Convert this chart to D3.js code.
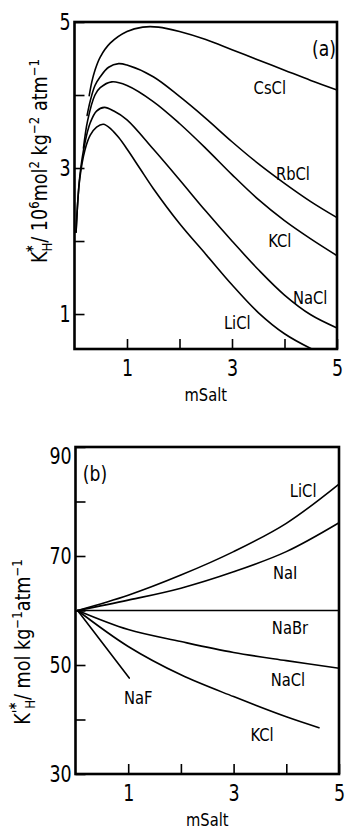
<!DOCTYPE html>
<html>
<head>
<meta charset="utf-8">
<script src="https://cdn.jsdelivr.net/npm/d3@7"></script>
<style>
  html, body { margin: 0; padding: 0; background: #fff; }
  svg { display: block; }
  text { font-family: "DejaVu Sans", sans-serif; fill: #000; }
</style>
</head>
<body>
<svg id="chart" width="345" height="830"></svg>
<script>
// ---- Panel (a): K*_H vs salt molality, chloride salts ----
const aLiClM = [0.03, 0.1, 0.2, 0.3, 0.42, 0.55, 0.7, 0.85, 1.0, 1.25, 1.5, 2.0, 2.5, 3.0, 3.5, 4.0, 4.52];
const aLiClK = [2.12, 2.85, 3.25, 3.45, 3.56, 3.60, 3.53, 3.41, 3.26, 2.99, 2.72, 2.24, 1.82, 1.40, 1.02, 0.73, 0.52];
const aNaClM = [0.03, 0.1, 0.2, 0.3, 0.42, 0.57, 0.75, 1.0, 1.5, 2.0, 2.5, 3.0, 3.5, 4.0, 4.5, 5.0];
const aNaClK = [2.12, 2.88, 3.35, 3.62, 3.78, 3.83, 3.78, 3.66, 3.26, 2.84, 2.41, 2.00, 1.61, 1.26, 0.99, 0.81];
const aKClM  = [0.17, 0.25, 0.39, 0.49, 0.71, 1.0, 1.5, 2.0, 2.5, 3.0, 3.5, 4.0, 4.5, 5.0];
const aKClK  = [3.27, 3.65, 4.00, 4.10, 4.18, 4.13, 3.91, 3.61, 3.27, 2.91, 2.57, 2.28, 2.03, 1.80];
const aRbClM = [0.24, 0.3, 0.39, 0.49, 0.65, 0.84, 1.0, 1.5, 2.0, 2.5, 3.0, 3.5, 4.0, 4.5, 5.0];
const aRbClK = [3.72, 3.92, 4.13, 4.25, 4.38, 4.43, 4.41, 4.25, 3.98, 3.68, 3.36, 3.06, 2.79, 2.54, 2.32];
const aCsClM = [0.28, 0.33, 0.39, 0.49, 0.68, 1.0, 1.3, 1.6, 2.0, 2.5, 3.0, 3.5, 4.0, 4.5, 5.0];
const aCsClK = [3.99, 4.18, 4.34, 4.52, 4.71, 4.87, 4.93, 4.93, 4.87, 4.76, 4.62, 4.48, 4.34, 4.20, 4.07];
const aSalts = ["CsCl", "RbCl", "KCl", "NaCl", "LiCl"];
const aTickLabels = [1, 3, 5];
const aYTickLabels = [1, 3, 5];

// ---- Panel (b): K'*_H vs salt molality ----
const bLiClM = [0.04, 1, 2, 3, 4, 5];
const bLiClK = [60, 62.8, 66.5, 70.8, 76.0, 83.2];
const bNaIM  = [0.04, 1, 2, 3, 4, 5];
const bNaIK  = [60, 61.9, 64.1, 67.1, 70.8, 76.1];
const bNaBrM = [0.04, 5];
const bNaBrK = [60, 60];
const bNaClM = [0.04, 1, 2, 3, 4, 5];
const bNaClK = [60, 56.5, 54.3, 52.3, 50.8, 49.4];
const bKClM  = [0.04, 1, 2, 3, 4, 4.62];
const bKClK  = [60, 53.4, 48.2, 44.2, 40.5, 38.5];
const bNaFM  = [0.04, 1.02];
const bNaFK  = [60, 47.6];
const bSalts = ["LiCl", "NaI", "NaBr", "NaCl", "KCl", "NaF"];
const bTickLabels = [1, 3, 5];
const bYTickLabels = [30, 50, 70, 90];

// Label anchors, in data units of each panel
const aLabelSpots = { CsCl: [3.72, 4.10], RbCl: [4.16, 2.93], KCl: [3.91, 2.01], NaCl: [4.49, 1.23], LiCl: [3.10, 0.89] };
const bLabelSpots = { LiCl: [4.32, 82.1], NaI: [3.98, 66.9], NaBr: [4.07, 56.8], NaCl: [4.03, 47.4], NaF: [1.19, 44.1], KCl: [3.54, 37.2] };

const zip = (ms, ks) => ms.map((m, i) => [m, ks[i]]);
const aSeries = {
  CsCl: zip(aCsClM, aCsClK), RbCl: zip(aRbClM, aRbClK), KCl: zip(aKClM, aKClK),
  NaCl: zip(aNaClM, aNaClK), LiCl: zip(aLiClM, aLiClK)
};
const bSeries = {
  LiCl: zip(bLiClM, bLiClK), NaI: zip(bNaIM, bNaIK), NaBr: zip(bNaBrM, bNaBrK),
  NaCl: zip(bNaClM, bNaClK), KCl: zip(bKClM, bKClK), NaF: zip(bNaFM, bNaFK)
};

const svg = d3.select("#chart");

// condensed lettering: squeeze text horizontally around its anchor point
function label(g, px, py, str, size, sx, anchor) {
  return g.append("text")
    .attr("transform", `translate(${px},${py}) scale(${sx},1)`)
    .attr("text-anchor", anchor || "middle").attr("font-size", size).text(str);
}

function panel(opts) {
  const { x, y, series, names, spots, xTicks, yTicks, xLabels, yLabels, tag, tagPos, title, titlePos, xTitleY } = opts;
  const g = svg.append("g");

  // inward ticks with labels
  const xAxis = d3.axisBottom(x).tickValues(xTicks).tickSize(-10).tickPadding(11)
    .tickFormat(d => xLabels.includes(d) ? d : "");
  const gx = g.append("g").attr("transform", `translate(0,${y.range()[0]})`).call(xAxis);
  const yAxis = d3.axisLeft(y).tickValues(yTicks).tickSize(-10).tickPadding(5)
    .tickFormat(d => yLabels.includes(d) ? d : "");
  const gy = g.append("g").attr("transform", `translate(${x.range()[0]},0)`).call(yAxis);
  [gx, gy].forEach(a => {
    a.attr("font-family", null).attr("font-size", null);
    a.select(".domain").remove();
    a.selectAll(".tick line").attr("stroke", "#000").attr("stroke-width", 1.6);
    a.selectAll(".tick text").attr("font-size", 23).attr("fill", "#000")
      .attr("transform", "scale(0.76,1)");
  });
  if (opts.adjustY) opts.adjustY(gy);

  // curves
  const line = d3.line().x(d => x(d[0])).y(d => y(d[1])).curve(d3.curveCatmullRom.alpha(0.5));
  names.forEach(n => {
    g.append("path").datum(series[n]).attr("d", line)
      .attr("fill", "none").attr("stroke", "#000").attr("stroke-width", 1.6)
      .attr("stroke-linejoin", "round").attr("stroke-linecap", "round");
  });

  // curve labels
  names.forEach(n => {
    label(g, x(spots[n][0]), y(spots[n][1]), n, 18, 0.82).attr("dy", "0.36em");
  });

  // frame
  const [x0, x1] = x.range(), [y0, y1] = y.range();
  g.append("rect").attr("x", x0).attr("y", y1).attr("width", x1 - x0).attr("height", y0 - y1)
    .attr("fill", "none").attr("stroke", "#000").attr("stroke-width", 2.6);

  // panel tag
  label(g, tagPos[0], tagPos[1], tag, 22, 0.78).attr("dy", "0.36em");

  // x title
  label(g, (x0 + x1) / 2, xTitleY, "mSalt", 17.5, 0.84);

  // y title
  const t = g.append("text")
    .attr("transform", `translate(${titlePos[0]},${titlePos[1]}) rotate(-90) scale(0.84,1)`)
    .attr("text-anchor", "middle").attr("font-size", 21).style("white-space", "pre");
  title(t);
}

function sup(t, s, size, up) { t.append("tspan").attr("font-size", size).attr("dy", -up).text(s); }

panel({
  x: d3.scaleLinear().domain([0, 5]).range([74.5, 337]),
  y: d3.scaleLinear().domain([0.521, 5]).range([349, 22]),
  series: aSeries, names: aSalts, spots: aLabelSpots,
  xTicks: [1, 2, 3, 4, 5], yTicks: [1, 2, 3, 4, 5],
  xLabels: aTickLabels, yLabels: aYTickLabels,
  tag: "(a)", tagPos: [324, 48], titlePos: [46.5, 161], xTitleY: 401,
  title: t => {
    t.append("tspan").text("K");
    t.append("tspan").attr("font-size", 14).attr("dy", 5).text("H");
    t.append("tspan").attr("font-size", 15).attr("font-weight", "bold").attr("dx", -11).attr("dy", -14).text("*");
    t.append("tspan").attr("font-size", 21).attr("dy", 9).attr("dx", 3).text("/ 10");
    sup(t, "6", 14, 8);
    t.append("tspan").attr("dy", 8).text("mol");
    sup(t, "2", 14, 8);
    t.append("tspan").attr("dy", 8).text(" kg");
    sup(t, "\u22122", 14, 8);
    t.append("tspan").attr("dy", 8).text(" atm");
    sup(t, "\u22121", 14, 8);
  }
});

panel({
  x: d3.scaleLinear().domain([0, 5]).range([75.5, 339]),
  y: d3.scaleLinear().domain([30, 90]).range([774, 447]),
  series: bSeries, names: bSalts, spots: bLabelSpots,
  xTicks: [1, 2, 3, 4, 5], yTicks: [30, 40, 50, 60, 70, 80, 90],
  xLabels: bTickLabels, yLabels: bYTickLabels,
  tag: "(b)", tagPos: [95, 473], titlePos: [30, 642], xTitleY: 826,
  adjustY: gy => gy.selectAll(".tick text").filter(d => d === 90).attr("dy", "0.7em"),
  title: t => {
    t.append("tspan").text("K");
    t.append("tspan").attr("font-size", 16).attr("dy", -6).text("'");
    t.append("tspan").attr("font-size", 14).attr("dy", 11).attr("dx", 1).text("H");
    t.append("tspan").attr("font-size", 15).attr("font-weight", "bold").attr("dx", -11).attr("dy", -14).text("*");
    t.append("tspan").attr("font-size", 21).attr("dy", 9).attr("dx", 3).text("/ mol kg");
    sup(t, "\u22121", 14, 8);
    t.append("tspan").attr("dy", 8).text("atm");
    sup(t, "\u22121", 14, 8);
  }
});
</script>
</body>
</html>
